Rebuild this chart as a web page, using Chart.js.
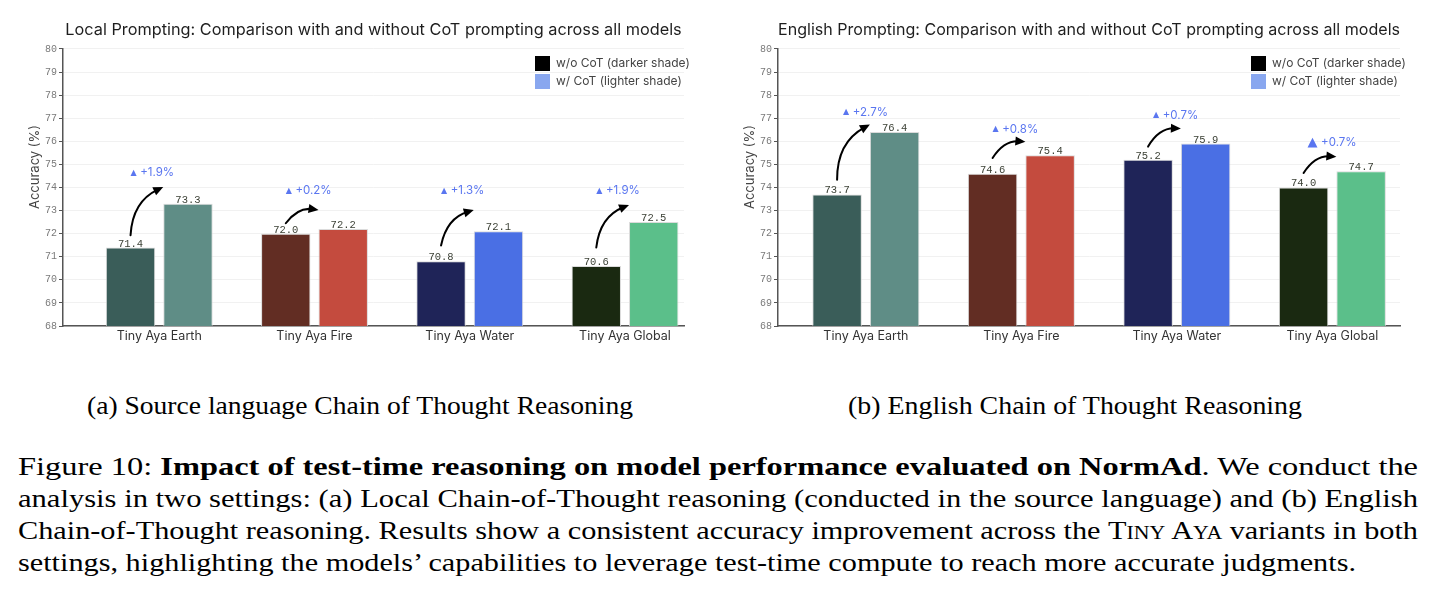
<!DOCTYPE html>
<html>
<head>
<meta charset="utf-8">
<script src="https://cdn.jsdelivr.net/npm/chart.js@4.4.1/dist/chart.umd.min.js"></script>
<style>
html, body { margin:0; padding:0; background:#fff; width:1435px; height:594px; overflow:hidden; position:relative; }
.cv { position:absolute; top:0; height:360px; }
#w1 { left:0; width:717px; }
#w2 { left:717px; width:718px; }
.cap { position:absolute; font-family:"Liberation Serif","Times New Roman",serif; font-size:25px; line-height:32px; color:#000; white-space:nowrap; transform-origin:0 50%; }
.sc { font-variant:small-caps; }
</style>
</head>
<body>
<div class="cv" id="w1"><canvas id="c1" width="717" height="360" style="width:717px;height:360px"></canvas></div>
<div class="cv" id="w2"><canvas id="c2" width="718" height="360" style="width:718px;height:360px"></canvas></div>

<div class="cap" id="capA" data-w="546" style="left:87px;top:390px">(a) Source language Chain of Thought Reasoning</div>
<div class="cap" id="capB" data-w="454" style="left:848px;top:390px">(b) English Chain of Thought Reasoning</div>

<div class="cap" data-w="1400" style="left:18px;top:451px">Figure 10: <b>Impact of test-time reasoning on model performance evaluated on NormAd</b>. We conduct the</div>
<div class="cap" data-w="1400" style="left:18px;top:483px">analysis in two settings: (a) Local Chain-of-Thought reasoning (conducted in the source language) and (b) English</div>
<div class="cap" data-w="1400" style="left:18px;top:515px">Chain-of-Thought reasoning. Results show a consistent accuracy improvement across the <span class="sc">Tiny Aya</span> variants in both</div>
<div class="cap" data-w="1338" style="left:18px;top:547px">settings, highlighting the models’ capabilities to leverage test-time compute to reach more accurate judgments.</div>

<script>
// ---------------- data ----------------
const categories = ['Tiny Aya Earth', 'Tiny Aya Fire', 'Tiny Aya Water', 'Tiny Aya Global'];
const localWithoutCoT = [71.4, 72.0, 70.8, 70.6];
const localWithCoT = [73.3, 72.2, 72.1, 72.5];
const englishWithoutCoT = [73.7, 74.6, 75.2, 74.0];
const englishWithCoT = [76.4, 75.4, 75.9, 74.7];
const seriesNames = ['w/o CoT (darker shade)', 'w/ CoT (lighter shade)'];
const yMin = 68, yMax = 80, yStep = 1;
const chartTitles = [
  'Local Prompting: Comparison with and without CoT prompting across all models',
  'English Prompting: Comparison with and without CoT prompting across all models'
];
const yAxisTitle = 'Accuracy (%)';

// ---------------- styles ----------------
const darkShades = ['#3a5d59', '#622d23', '#1f2458', '#1a2911'];
const lightShades = ['#5f8d86', '#c44b3e', '#4a6fe4', '#5bbf8a'];
const legendSwatches = ['#000000', '#89a7ef'];
const deltaColor = '#5a76f0';

const annotPlugin = {
  id: 'cotAnnot',
  afterDatasetsDraw(chart, args, o) {
    const ctx = chart.ctx, ys = chart.scales.y;
    const m0 = chart.getDatasetMeta(0), m1 = chart.getDatasetMeta(1);
    const d0 = chart.data.datasets[0].data, d1 = chart.data.datasets[1].data;
    ctx.save();
    // value labels
    ctx.fillStyle = '#3b4035';
    ctx.font = '10.5px "Liberation Mono", "DejaVu Sans Mono", monospace';
    ctx.textAlign = 'center';
    ctx.textBaseline = 'alphabetic';
    [m0, m1].forEach((m, k) => {
      const d = k === 0 ? d0 : d1;
      m.data.forEach((bar, i) => ctx.fillText(d[i].y.toFixed(1), bar.x, bar.y - 1));
    });
    // arrows + deltas
    m0.data.forEach((b0, i) => {
      const b1 = m1.data[i];
      const v0 = d0[i].y, v1 = d1[i].y;
      const sx = b0.x, sy = ys.getPixelForValue(v0 + o.startOff[i]);
      const ex = b1.x - b1.width / 2, ey = ys.getPixelForValue(v1 + o.endOff[i]);
      const dx = ex - sx, dy = ey - sy;
      const cx = (sx + ex) / 2 + o.rad * dy, cy = (sy + ey) / 2 - o.rad * dx;
      let ux = ex - cx, uy = ey - cy; const L = Math.hypot(ux, uy); ux /= L; uy /= L;
      const hl = 10, hw = 4.5;
      ctx.strokeStyle = '#000'; ctx.lineWidth = 2; ctx.lineCap = 'round';
      ctx.beginPath(); ctx.moveTo(sx, sy);
      ctx.quadraticCurveTo(cx, cy, ex - ux * hl * 0.6, ey - uy * hl * 0.6);
      ctx.stroke();
      ctx.fillStyle = '#000';
      ctx.beginPath();
      ctx.moveTo(ex, ey);
      ctx.lineTo(ex - ux * hl - uy * hw, ey - uy * hl + ux * hw);
      ctx.lineTo(ex - ux * hl + uy * hw, ey - uy * hl - ux * hw);
      ctx.closePath(); ctx.fill();
      // delta label
      const ly = ys.getPixelForValue(v1 + o.labelOff[i]);
      let lx = sx + o.labelDx[i];
      ctx.fillStyle = deltaColor;
      ctx.textAlign = 'left'; ctx.textBaseline = 'middle';
      ctx.font = o.triSize[i] + 'px "DejaVu Sans", sans-serif';
      ctx.fillText('▲', lx, ly - 0.5);
      lx += ctx.measureText('▲').width + 3.5;
      ctx.font = '11.5px Inter, "Noto Sans", sans-serif';
      ctx.fillText('+' + (v1 - v0).toFixed(1) + '%', lx, ly);
    });
    ctx.restore();
  }
};

const yTitlePlugin = {
  id: 'yTitle',
  afterDraw(chart) {
    const ctx = chart.ctx, ca = chart.chartArea;
    ctx.save();
    ctx.translate(ca.left - 28, 167);
    ctx.rotate(-Math.PI / 2);
    ctx.fillStyle = '#444';
    ctx.font = '13px Inter, "Noto Sans", sans-serif';
    ctx.textAlign = 'center'; ctx.textBaseline = 'middle';
    ctx.fillText(yAxisTitle, 0, 0);
    ctx.restore();
  }
};

const legendPlace = {
  id: 'legendPlace',
  afterLayout(chart) {
    const lg = chart.legend; if (!lg) return;
    const ca = chart.chartArea;
    const w = lg.width;
    lg.left = ca.right - 152; lg.right = lg.left + w;
    lg.top = ca.top + 4; lg.bottom = lg.top + 80; lg.height = 80;
  }
};

function makeChart(id, without, withC, title, cfg) {
  const mk = arr => arr.map((v, i) => ({ x: i, y: v }));
  return new Chart(document.getElementById(id), {
    type: 'bar',
    data: {
      datasets: [
        { label: seriesNames[0], data: mk(without), backgroundColor: darkShades, borderColor: 'rgba(215,215,215,0.9)', borderWidth: 1, categoryPercentage: 0.74, barPercentage: 0.86 },
        { label: seriesNames[1], data: mk(withC), backgroundColor: lightShades, borderColor: 'rgba(215,215,215,0.9)', borderWidth: 1, categoryPercentage: 0.74, barPercentage: 0.86 }
      ]
    },
    options: {
      responsive: false,
      animation: false,
      layout: { padding: { left: 0, right: cfg.padRight, top: 0, bottom: 0 } },
      scales: {
        x: {
          type: 'linear', min: cfg.xMin, max: cfg.xMax, offset: false,
          afterBuildTicks: s => { s.ticks = categories.map((c, i) => ({ value: i })); },
          afterFit: s => { s.height = 34; },
          ticks: { callback: v => categories[v], color: '#333', font: { family: 'Inter', size: 12.5 }, padding: 3, autoSkip: false, maxRotation: 0 },
          grid: { display: false, drawTicks: false, tickLength: 0 },
          border: { display: true, color: '#555', width: 1.5 }
        },
        y: {
          min: yMin, max: yMax,
          afterFit: s => { s.width = cfg.yWidth; },
          ticks: { stepSize: yStep, color: '#7a7a7a', font: { family: 'Liberation Mono', size: 10 }, padding: 2 },
          grid: { color: '#f1f1f1', lineWidth: 1, tickLength: 4, tickColor: '#555', tickWidth: 1 },
          border: { display: true, color: '#555', width: 1.5 },
          title: { display: false }
        }
      },
      plugins: {
        title: { display: true, text: title, fullSize: false, color: '#1e1e1e', font: { family: 'Inter', size: 16.3, weight: 'normal' }, padding: { top: 20, bottom: 9.4 } },
        legend: {
          display: true, position: 'chartArea', align: 'start',
          labels: {
            boxWidth: 15, boxHeight: 15, padding: 3, color: '#444',
            font: { family: 'Inter', size: 12 },
            generateLabels: () => seriesNames.map((t, i) => ({ text: t, fillStyle: legendSwatches[i], strokeStyle: legendSwatches[i], lineWidth: 0, hidden: false, datasetIndex: i, fontColor: '#444' }))
          }
        },
        tooltip: { enabled: false },
        cotAnnot: cfg.annot
      }
    },
    plugins: [annotPlugin, yTitlePlugin, legendPlace]
  });
}

makeChart('c1', localWithoutCoT, localWithCoT, chartTitles[0], {
  padRight: 33, yWidth: 63, xMin: -0.62, xMax: 3.38,
  annot: { rad: 0.3, startOff: [0.53, 0.45, 0.69, 0.8], endOff: [0.72, 0.82, 0.92, 0.74], labelOff: [1.33, 1.65, 1.75, 1.35], labelDx: [0, 0, 0, 0], triSize: [8, 8, 8, 8] }
});
makeChart('c2', englishWithoutCoT, englishWithCoT, chartTitles[1], {
  padRight: 35, yWidth: 61, xMin: -0.565, xMax: 3.435,
  annot: { rad: 0.3, startOff: [0.63, 0.68, 0.57, 0.63], endOff: [0.33, 0.58, 0.65, 0.63], labelOff: [0.85, 1.1, 1.22, 1.24], labelDx: [6, 0, 5, 4], triSize: [8, 8, 8, 13] }
});

function fitCaps() {
  document.querySelectorAll('.cap').forEach(el => {
    el.style.transform = 'none';
    const w = el.getBoundingClientRect().width;
    const t = parseFloat(el.dataset.w);
    el.style.transform = 'scaleX(' + (t / w) + ')';
  });
}
fitCaps();
if (document.fonts && document.fonts.ready) document.fonts.ready.then(fitCaps);
</script>
</body>
</html>
